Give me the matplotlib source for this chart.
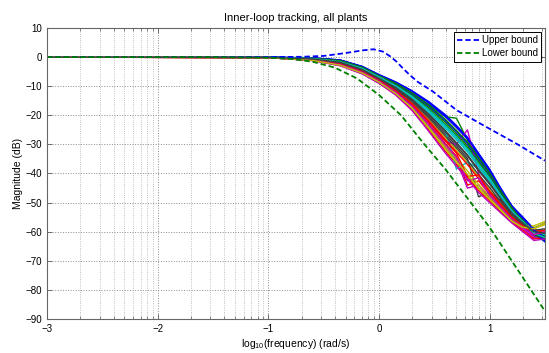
import numpy as np
import matplotlib
matplotlib.use("Agg")
import matplotlib.pyplot as plt

plt.rcParams['font.family'] = ['Liberation Sans', 'DejaVu Sans']
plt.rcParams['mathtext.default'] = 'regular'

# log10 frequency points (rad/s)
logw = [-3, -1, -0.6, -0.35, -0.15, 0, 0.15, 0.3, 0.45, 0.6, 0.7, 0.8, 0.9,
        1.0, 1.1, 1.2, 1.3, 1.4, 1.5]

# closed-loop magnitude (dB) of each plant
plant_mag = [
    [0, -0.05, -0.25, -1.0, -3.2, -6.0, -8.5, -11.6, -15.3, -19.8, -23.5, -27.5, -33.0, -38.5, -45.0, -51.0, -55.5, -60.5, -63.5],
    [0, -0.07, -0.35, -1.2, -3.5, -6.3, -9.0, -12.3, -16.3, -20.5, -21.0, -28.5, -34.4, -39.7, -45.9, -51.6, -56.5, -61.5, -63.0],
    [0, -0.16, -1.0, -2.5, -5.2, -8.3, -11.9, -16.7, -23.0, -29.7, -34.0, -44.0, -42.5, -47.1, -51.4, -55.5, -57.5, -59.5, -59.5],
    [0, -0.1, -0.55, -1.6, -4.0, -6.9, -9.9, -13.6, -18.4, -23.8, -27.7, -31.9, -37.1, -42.0, -47.6, -52.8, -56.0, -60.0, -61.5],
    [0, -0.18, -1.1, -2.7, -5.4, -8.6, -12.3, -17.4, -24.0, -31.0, -35.4, -45.0, -44.0, -48.3, -52.2, -56.1, -59.0, -62.0, -61.5],
    [0, -0.14, -0.8, -2.2, -4.8, -7.8, -11.2, -15.7, -21.4, -27.7, -31.9, -36.2, -41.1, -45.4, -50.1, -54.6, -57.0, -58.5, -57.5],
    [0, -0.13, -0.75, -2.0, -4.5, -7.5, -10.8, -15.0, -20.4, -26.4, -30.5, -34.8, -48.0, -46.5, -49.3, -54.0, -58.0, -61.0, -61.0],
    [0, -0.06, -0.3, -1.1, -3.3, -6.2, -8.7, -11.9, -15.8, -20.5, -24.2, -28.2, -33.7, -39.1, -45.4, -51.3, -55.0, -59.0, -57.0],
    [0, -0.08, -0.45, -1.4, -3.7, -6.6, -9.4, -13.0, -17.3, -22.4, -26.3, -30.4, -35.7, -40.8, -46.7, -52.2, -56.0, -61.0, -62.5],
    [0, -0.19, -1.15, -2.9, -5.7, -8.9, -12.8, -18.1, -25.0, -32.3, -36.8, -41.3, -45.8, -49.4, -53.1, -56.7, -59.5, -62.5, -62.0],
    [0, -0.11, -0.65, -1.8, -4.2, -7.2, -10.3, -14.3, -19.4, -25.1, -38.5, -36.0, -38.4, -43.1, -48.4, -53.4, -57.0, -60.5, -60.5],
    [0, -0.16, -0.9, -2.4, -5.0, -8.1, -11.7, -16.4, -22.4, -29.0, -30.0, -25.0, -40.0, -46.6, -51.0, -55.2, -58.5, -61.5, -60.5],
    [0, -0.19, -1.1, -2.8, -5.5, -8.7, -12.6, -17.7, -24.5, -31.7, -36.1, -40.6, -45.2, -48.9, -52.7, -56.4, -58.5, -59.0, -57.5],
    [0, -0.12, -0.7, -1.9, -4.4, -7.4, -10.5, -14.7, -19.9, -25.7, -29.8, -34.0, -39.1, -43.7, -48.8, -53.7, -57.0, -60.0, -60.5],
    [0, -0.07, -0.4, -1.3, -3.6, -6.5, -9.2, -12.6, -16.8, -21.8, -25.6, -29.7, -35.0, -40.2, -46.3, -51.9, -55.5, -60.5, -63.0],
    [0, -0.09, -0.5, -1.5, -3.9, -6.8, -9.6, -13.3, -17.9, -23.1, -27.0, -31.1, -36.4, -41.4, -47.1, -52.5, -56.0, -60.0, -61.5],
    [0, -0.15, -0.9, -2.3, -4.9, -8.0, -11.4, -16.0, -21.9, -28.4, -32.6, -36.9, -41.8, -46.0, -50.5, -54.9, -58.0, -60.5, -59.5],
    [0, -0.1, -0.6, -1.7, -4.1, -7.1, -10.1, -14.0, -18.9, -24.4, -28.4, -32.6, -37.7, -42.5, -48.0, -53.1, -56.5, -60.0, -61.0],
    [0, -0.2, -1.2, -3.0, -5.8, -9.0, -13.0, -18.4, -25.5, -33.0, -37.5, -42.0, -46.5, -50.0, -53.5, -57.0, -60.0, -63.0, -62.5],
    [0, -0.17, -1.0, -2.6, -5.3, -8.4, -12.1, -17.0, -23.5, -30.4, -34.7, -39.1, -43.8, -47.7, -51.8, -55.8, -58.0, -58.0, -56.5],
    [0, -0.13, -0.8, -2.1, -4.6, -7.7, -11.0, -15.3, -20.9, -27.1, -31.2, -35.5, -40.4, -44.8, -49.7, -54.3, -57.5, -59.5, -59.0],
    [0, -0.05, -0.27, -1.0, -3.3, -6.1, -8.6, -11.7, -15.5, -20.1, -23.8, -27.8, -33.3, -38.7, -45.2, -51.1, -55.0, -59.5, -62.0],
    [0, -0.07, -0.36, -1.2, -3.5, -6.4, -9.0, -12.4, -16.5, -21.4, -25.2, -29.2, -34.6, -39.9, -46.0, -51.7, -56.5, -61.0, -62.0],
    [0, -0.15, -0.9, -2.4, -5.0, -8.0, -11.6, -16.2, -22.2, -28.8, -33.0, -41.0, -40.5, -46.3, -50.8, -55.1, -58.0, -61.0, -60.0],
    [0, -0.09, -0.52, -1.6, -3.9, -6.8, -9.8, -13.5, -18.2, -23.5, -27.4, -31.6, -36.8, -41.7, -47.4, -52.7, -56.5, -60.5, -62.0],
    [0, -0.17, -0.99, -2.6, -5.2, -8.3, -12.0, -16.9, -23.3, -30.1, -34.4, -42.5, -41.5, -47.5, -51.6, -55.7, -58.5, -61.0, -60.0],
    [0, -0.18, -1.09, -2.8, -5.5, -8.6, -12.5, -17.6, -24.3, -31.4, -35.8, -40.3, -44.9, -48.6, -52.5, -56.3, -58.5, -59.0, -57.0],
    [0, -0.11, -0.65, -1.8, -4.3, -7.3, -10.4, -14.5, -19.6, -25.3, -29.4, -33.6, -38.7, -43.3, -48.6, -53.5, -57.0, -60.0, -60.5],
]

# old MATLAB colour order, cycled over the plants
color_order = [(0, 0, 1), (0, 0.5, 0), (1, 0, 0), (0, 0.75, 0.75),
               (0.75, 0, 0.75), (0.75, 0.75, 0), (0.25, 0.25, 0.25)]

# tracking bounds
upper_logw = [-3, -1, -0.7, -0.5, -0.3, -0.15, -0.05, 0.035, 0.1, 0.16, 0.22, 0.28,
              0.35, 0.49, 0.7, 0.97, 1.24, 1.5]
upper_mag = [0, 0, 0.1, 0.4, 1.4, 2.3, 2.7, 1.9, 0.3, -1.6, -4.0, -6.2,
             -8.5, -11.9, -18.2, -24.0, -29.7, -35.6]
lower_logw = [-3, -1.5, -1, -0.8, -0.6, -0.4, -0.2, 0, 0.2, 0.4, 0.6, 0.8,
              1.0, 1.2, 1.4, 1.5]
lower_mag = [0, 0, -0.2, -0.6, -1.6, -3.6, -7.3, -13.0, -20.0, -29.5, -38.5,
             -48.5, -58.5, -70.0, -81.5, -87.3]

fig = plt.figure(figsize=(5.49, 3.53), dpi=100)
ax = fig.add_axes([0.0856, 0.0963, 0.907, 0.8244])

for i, mag in enumerate(plant_mag):
    ax.plot(logw, mag, color=color_order[i % len(color_order)], lw=1.0)

ax.plot(upper_logw, upper_mag, color=(0, 0, 1), lw=1.3, ls=(0, (3, 1.6)),
        label='Upper bound')
ax.plot(lower_logw, lower_mag, color=(0, 0.5, 0), lw=1.3, ls=(0, (3, 1.6)),
        label='Lower bound')

ax.set_xlim(-3, 1.5)
ax.set_ylim(-90, 10)
ax.set_xticks(range(-3, 2))
ax.set_yticks(range(-90, 11, 10))
minor = [d + np.log10(k) for d in range(-3, 2) for k in range(2, 10)
         if d + np.log10(k) <= 1.5]
ax.set_xticks(minor, minor=True)

ax.grid(True, which='major', ls=':', color='0.55', lw=0.7)
ax.grid(True, which='minor', axis='x', ls=':', color='0.68', lw=0.6)
ax.tick_params(which='both', direction='in', top=True, right=True,
               labelsize=7, colors='0.35', labelcolor='black')
ax.tick_params(which='major', length=3.5, width=0.6)
ax.tick_params(which='minor', length=2, width=0.5)
for s in ax.spines.values():
    s.set_color('0.4')
    s.set_linewidth(0.8)

ax.set_title('Inner-loop tracking, all plants', fontsize=8, pad=5)
ax.set_xlabel('log$_{10}$(frequency) (rad/s)', fontsize=7.5, labelpad=2)
ax.set_ylabel('Magnitude (dB)', fontsize=7.5, labelpad=2)

leg = ax.legend(loc='upper right', fontsize=7, handlelength=2.3,
                handletextpad=0.2, borderpad=0.35, labelspacing=0.3,
                borderaxespad=0.4, fancybox=False, framealpha=1)
leg.get_frame().set_edgecolor('black')
leg.get_frame().set_linewidth(0.7)

fig.savefig('out.png', dpi=100)
